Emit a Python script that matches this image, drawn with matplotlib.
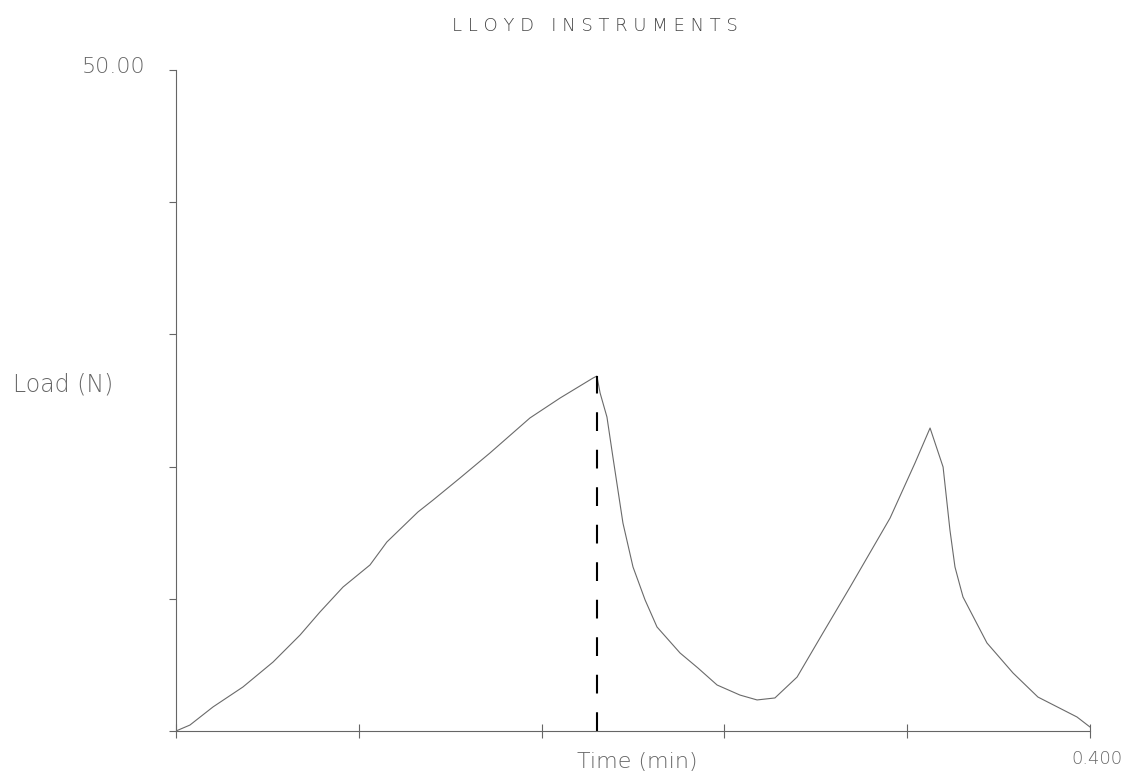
import matplotlib
matplotlib.use("Agg")
import matplotlib.pyplot as plt

# load trace from the tester: time in minutes, load in newtons
time_min = [0.0, 0.0061, 0.0162, 0.0293, 0.0425, 0.0543, 0.0630, 0.0731, 0.0849,
            0.0923, 0.1059, 0.1125, 0.1243, 0.1374, 0.1549, 0.1681, 0.1825, 0.1842,
            0.1856, 0.1886, 0.1912, 0.1956, 0.2000, 0.2053, 0.2105, 0.2206, 0.2284,
            0.2368, 0.2468, 0.2543, 0.2621, 0.2718, 0.2831, 0.2950, 0.3125, 0.3234,
            0.3300, 0.3357, 0.3387, 0.3409, 0.3444, 0.3549, 0.3663, 0.3772, 0.3943,
            0.4000]
load_n = [0.0, 0.45, 1.82, 3.33, 5.22, 7.26, 9.00, 10.89, 12.56,
          14.30, 16.57, 17.47, 19.14, 21.03, 23.68, 25.19, 26.70, 26.85,
          25.57, 23.75, 20.73, 15.73, 12.41, 9.91, 7.87, 5.90, 4.77,
          3.48, 2.72, 2.35, 2.50, 4.08, 7.41, 10.89, 16.11, 20.27,
          22.92, 19.97, 15.20, 12.41, 10.14, 6.66, 4.39, 2.57, 1.06,
          0.30]

peak_time = 0.1842
peak_load = 26.85

x_max = 0.4
y_max = 50.0
y_ticks = [0, 10, 20, 30, 40, 50]
x_ticks = [0.0, 0.08, 0.16, 0.24, 0.32, 0.4]

ink = "#666666"

fig = plt.figure(figsize=(11.39, 7.78), dpi=100)
ax = fig.add_axes([0.1545, 0.0604, 0.957 - 0.1545, 0.910 - 0.0604])

ax.plot(time_min, load_n, color="#6a6a6a", lw=0.8)
ax.plot([peak_time, peak_time], [0, peak_load], color="black", lw=1.5,
        linestyle=(0, (9, 9)))

ax.set_xlim(0, x_max)
ax.set_ylim(0, y_max)
for side in ["top", "right"]:
    ax.spines[side].set_visible(False)
for side in ["left", "bottom"]:
    ax.spines[side].set_color(ink)
    ax.spines[side].set_linewidth(0.8)

ax.set_yticks(y_ticks)
ax.set_xticks(x_ticks)
ax.set_yticklabels([])
ax.set_xticklabels([])
ax.tick_params(axis="y", direction="out", length=5, width=0.8, color=ink)
ax.tick_params(axis="x", direction="inout", length=10, width=0.8, color=ink)

font = dict(color="#666666", fontweight="light")
ax.annotate("50.00", xy=(0, y_max), xytext=(-22, 2), textcoords="offset points",
            ha="right", va="center", fontsize=16, annotation_clip=False, **font)
ax.annotate("0.400", xy=(x_max, 0), xytext=(5, -20), textcoords="offset points",
            ha="center", va="center", fontsize=13, annotation_clip=False, **font)
ax.annotate("Load (N)", xy=(0, 26.2), xytext=(-117, 0), textcoords="offset points",
            ha="left", va="center", fontsize=17, annotation_clip=False, **font)
ax.annotate("Time (min)", xy=(0.2, 0), xytext=(3, -22), textcoords="offset points",
            ha="center", va="center", fontsize=16, annotation_clip=False, **font)
fig.text(0.522, 0.966, "L L O Y D   I N S T R U M E N T S", ha="center", va="center",
         fontsize=13, color="#444444", fontweight="light")

fig.savefig("out.png", dpi=100, facecolor="white")
